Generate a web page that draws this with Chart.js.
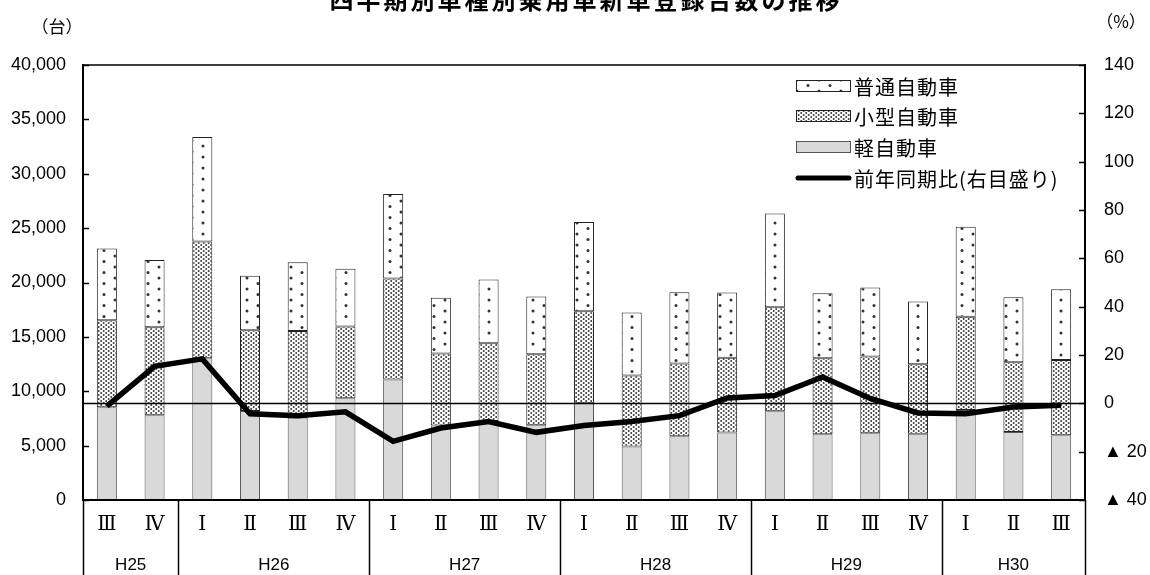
<!DOCTYPE html>
<html>
<head>
<meta charset="utf-8">
<script src="https://cdn.jsdelivr.net/npm/chart.js@4.4.0/dist/chart.umd.min.js"></script>
<style>
  html, body { margin: 0; padding: 0; background: #fff; }
  #wrap { width: 1150px; height: 575px; position: relative; }
</style>
</head>
<body>
<div id="wrap"><canvas id="c" width="1150" height="575"></canvas></div>
<script>
// Quarterly passenger-car registrations by vehicle class (units) and YoY change (%)
const quarters = ['Ⅲ','Ⅳ','Ⅰ','Ⅱ','Ⅲ','Ⅳ','Ⅰ','Ⅱ','Ⅲ','Ⅳ','Ⅰ','Ⅱ','Ⅲ','Ⅳ','Ⅰ','Ⅱ','Ⅲ','Ⅳ','Ⅰ','Ⅱ','Ⅲ'];
const years = ['H25','H26','H27','H28','H29','H30'];
const quartersPerYear = [2, 4, 4, 4, 4, 3];

const keiCars      = [8530, 7790, 13040, 8190, 7580, 9350, 11070, 6840, 7270, 6870, 8900, 4910, 5860, 6200, 8160, 6040, 6130, 6100, 8280, 6260, 5950];
const smallCars    = [8000, 8100, 10730, 7420, 7970, 6610, 9300, 6630, 7150, 6530, 8460, 6530, 6690, 6870, 9570, 7000, 7060, 6380, 8560, 6410, 6930];
const standardCars = [6600, 6170, 9600, 5000, 6320, 5300, 7760, 5120, 5860, 5310, 8210, 5800, 6560, 6010, 8620, 5980, 6350, 5770, 8280, 5980, 6510];
const yoyChange    = [-1.2, 15.3, 18.4, -4.3, -5.1, -3.5, -15.7, -10.2, -7.5, -12.0, -9.2, -7.5, -5.1, 2.2, 3.2, 10.9, 2.0, -4.0, -4.3, -1.5, -0.8];

const seriesNames = ['普通自動車', '小型自動車', '軽自動車', '前年同期比(右目盛り)'];
const titleText = '四半期別車種別乗用車新車登録台数の推移';
const leftUnit = '（台）';
const rightUnit = '（%）';

// Fill patterns
function makePattern(w, h, dots, r, color) {
  const c = document.createElement('canvas');
  c.width = w; c.height = h;
  const g = c.getContext('2d');
  g.fillStyle = '#fff';
  g.fillRect(0, 0, w, h);
  g.fillStyle = color;
  dots.forEach(([x, y]) => { g.beginPath(); g.arc(x, y, r, 0, Math.PI * 2); g.fill(); });
  return g.createPattern(c, 'repeat');
}
const sparseDots = makePattern(22, 11, [[5, 3], [16, 8.5]], 1.5, '#333');
const denseDots = makePattern(5, 4, [[1.2, 1], [3.7, 3]], 1.0, '#3a3a3a');
const keiFill = '#d9d9d9';

const CJK = '"Noto Sans CJK JP", "Noto Sans", sans-serif';
const LAT = '"Liberation Sans", "DejaVu Sans", sans-serif';

const decorations = {
  id: 'decorations',
  afterDatasetsDraw(chart) {
    const { ctx, chartArea: a, scales } = chart;
    const y0 = Math.round(scales.y1.getPixelForValue(0)) + 0.5;
    ctx.save();
    ctx.strokeStyle = '#000';
    ctx.lineWidth = 1.5;
    ctx.beginPath(); ctx.moveTo(a.left, y0); ctx.lineTo(a.right, y0); ctx.stroke();
    ctx.restore();
  },
  afterDraw(chart) {
    const { ctx, chartArea: a, scales } = chart;
    const xs = scales.x, yl = scales.y, yr = scales.y1;
    ctx.save();
    ctx.strokeStyle = '#000';

    // plot frame
    ctx.lineWidth = 1.5;
    ctx.strokeRect(a.left, a.top, a.right - a.left, a.bottom - a.top);
    ctx.lineWidth = 2;
    ctx.beginPath();
    ctx.moveTo(a.left, a.top); ctx.lineTo(a.left, a.bottom); ctx.lineTo(a.right, a.bottom); ctx.lineTo(a.right, a.top);
    ctx.stroke();

    // inward tick marks
    ctx.lineWidth = 1.5;
    yl.ticks.forEach(t => {
      const p = Math.round(yl.getPixelForValue(t.value)) + 0.5;
      ctx.beginPath(); ctx.moveTo(a.left, p); ctx.lineTo(a.left + 6, p); ctx.stroke();
    });
    yr.ticks.forEach(t => {
      const p = Math.round(yr.getPixelForValue(t.value)) + 0.5;
      ctx.beginPath(); ctx.moveTo(a.right - 6, p); ctx.lineTo(a.right, p); ctx.stroke();
    });

    // category table below the axis
    const H = chart.height;
    const bounds = [a.left];
    let idx = 0;
    quartersPerYear.forEach(n => {
      idx += n;
      if (idx < quarters.length) {
        bounds.push((xs.getPixelForValue(idx - 1) + xs.getPixelForValue(idx)) / 2);
      }
    });
    bounds.push(a.right);
    ctx.lineWidth = 1.5;
    bounds.forEach(bx => {
      const x = Math.round(bx) + 0.5;
      ctx.beginPath(); ctx.moveTo(x, a.bottom); ctx.lineTo(x, H); ctx.stroke();
    });
    ctx.fillStyle = '#000';
    ctx.font = '17px ' + LAT;
    ctx.textAlign = 'center';
    ctx.textBaseline = 'middle';
    let start = 0;
    years.forEach((yr, i) => {
      const end = start + quartersPerYear[i] - 1;
      const cx = (xs.getPixelForValue(start) + xs.getPixelForValue(end)) / 2;
      ctx.fillText(yr, cx, 565);
      start = end + 1;
    });

    // units
    ctx.font = '17px ' + CJK;
    ctx.fillText(leftUnit, 57, 27);
    ctx.fillText(rightUnit, 1121, 22);

    // title
    ctx.font = 'bold 24px ' + CJK;
    ctx.letterSpacing = '3px';
    ctx.fillText(titleText, 586, 0);
    ctx.letterSpacing = '0px';

    // legend
    const sets = chart.data.datasets;
    const order = [2, 1, 0, 3];
    const rowY = [86, 116, 147, 178];
    ctx.textAlign = 'left';
    ctx.font = '20px ' + CJK;
    ctx.letterSpacing = '1px';
    order.forEach((di, r) => {
      const ds = sets[di];
      const y = rowY[r];
      if (ds.type === 'line') {
        ctx.strokeStyle = ds.borderColor;
        ctx.lineWidth = 5;
        ctx.lineCap = 'round';
        ctx.beginPath(); ctx.moveTo(798, y); ctx.lineTo(849, y); ctx.stroke();
        ctx.lineCap = 'butt';
      } else {
        ctx.fillStyle = ds.backgroundColor;
        ctx.fillRect(796, y - 5, 54, 10);
        ctx.strokeStyle = ds.borderColor;
        ctx.lineWidth = 1;
        ctx.strokeRect(796.5, y - 5.5, 54, 11);
      }
      ctx.fillStyle = '#000';
      ctx.fillText(ds.label, 854, y + 1);
    });
    ctx.restore();
  }
};

new Chart(document.getElementById('c'), {
  data: {
    labels: quarters,
    datasets: [
      { type: 'bar', label: seriesNames[2], data: keiCars, backgroundColor: keiFill, borderColor: '#555', borderWidth: 1, borderSkipped: false, order: 1, yAxisID: 'y' },
      { type: 'bar', label: seriesNames[1], data: smallCars, backgroundColor: denseDots, borderColor: '#222', borderWidth: 1, borderSkipped: false, order: 1, yAxisID: 'y' },
      { type: 'bar', label: seriesNames[0], data: standardCars, backgroundColor: sparseDots, borderColor: '#222', borderWidth: 1, borderSkipped: false, order: 1, yAxisID: 'y' },
      { type: 'line', label: seriesNames[3], data: yoyChange, borderColor: '#000', borderWidth: 5.5, pointRadius: 0, tension: 0, order: 0, yAxisID: 'y1' }
    ]
  },
  options: {
    responsive: false,
    animation: false,
    devicePixelRatio: 1,
    layout: { padding: { top: 65, left: 0, right: 0, bottom: 0 } },
    datasets: { bar: { categoryPercentage: 1, barPercentage: 0.42 } },
    plugins: { legend: { display: false }, tooltip: { enabled: false }, title: { display: false } },
    scales: {
      x: {
        stacked: true,
        grid: { display: false, drawTicks: false },
        border: { display: false },
        ticks: { font: { family: '"DejaVu Serif", serif', size: 20 }, color: '#000', padding: 13, maxRotation: 0, autoSkip: false },
        afterFit(s) { s.height = 75; }
      },
      y: {
        stacked: true,
        position: 'left',
        min: 0, max: 40000,
        ticks: { stepSize: 5000, callback: v => v.toLocaleString('en-US'), font: { family: LAT, size: 18 }, color: '#000', padding: 17 },
        grid: { display: false, drawTicks: false },
        border: { display: true, color: '#000', width: 2 },
        afterFit(s) { s.width = 83; }
      },
      y1: {
        position: 'right',
        min: -40, max: 140,
        ticks: { stepSize: 20, callback: v => (v < 0 ? '▲ ' + (-v) : String(v)), font: { family: LAT, size: 18 }, color: '#000', padding: 19 },
        grid: { display: false, drawTicks: false },
        border: { display: true, color: '#000', width: 2 },
        afterFit(s) { s.width = 65; }
      }
    }
  },
  plugins: [decorations]
});
</script>
</body>
</html>
